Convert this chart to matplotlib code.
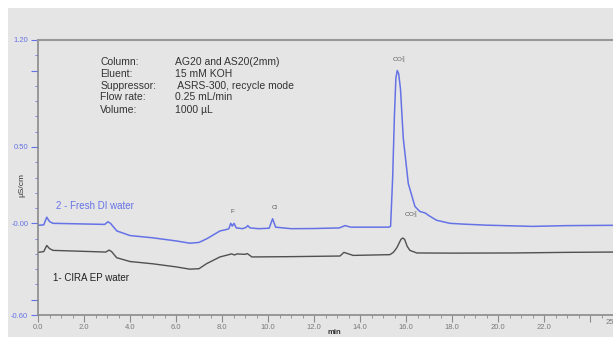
import matplotlib
matplotlib.use("Agg")
import matplotlib.pyplot as plt
from matplotlib.patches import Rectangle
from matplotlib.ticker import MultipleLocator, FixedLocator

plt.rcParams['font.family'] = ['Liberation Sans', 'DejaVu Sans']

# trace 2 - fresh DI water (min, uS/cm)
t_di = [0.0, 0.25, 0.38, 0.5, 0.65, 2.9, 3.04, 3.15, 3.43, 4.0, 5.0, 6.0, 6.6, 7.0,
        7.35, 7.91, 8.2, 8.3, 8.38, 8.45, 8.52, 8.62, 8.9, 9.05, 9.12, 9.22, 9.6, 10.05,
        10.2, 10.33, 11.0, 12.0, 13.1, 13.35, 13.6, 14.5, 15.25, 15.33, 15.42, 15.5,
        15.56, 15.62, 15.68, 15.76, 15.88, 16.1, 16.39, 16.6, 16.83, 17.0, 17.33, 17.91,
        18.48, 19.5, 21.5, 23.0, 25.0]
v_di = [-0.013, -0.01, 0.04, 0.012, 0.0, -0.007, 0.01, 0.0, -0.05, -0.08, -0.095, -0.115, -0.13, -0.125,
        -0.1, -0.05, -0.04, -0.035, 0.0, -0.018, 0.0, -0.03, -0.035, -0.026, -0.015, -0.03, -0.035, -0.032,
        0.03, -0.025, -0.035, -0.034, -0.03, -0.015, -0.025, -0.025, -0.025, -0.02, 0.3, 0.72,
        0.95, 1.0, 0.98, 0.88, 0.56, 0.26, 0.11, 0.078, 0.068, 0.05, 0.02, 0.0,
        -0.005, -0.012, -0.02, -0.015, -0.013]

# trace 1 - CIRA EP water
t_ep = [0.0, 0.25, 0.38, 0.5, 0.65, 2.95, 3.09, 3.2, 3.42, 4.0, 5.0, 6.0, 6.6, 7.0,
        7.33, 7.91, 8.3, 8.4, 8.55, 8.65, 9.0, 9.1, 9.3, 11.0, 13.13, 13.3, 13.5, 13.7,
        15.3, 15.45, 15.6, 15.78, 15.86, 15.94, 16.05, 16.17, 16.47, 18.0, 20.65, 23.0, 25.0]
v_ep = [-0.19, -0.185, -0.145, -0.165, -0.177, -0.188, -0.175, -0.185, -0.225, -0.25, -0.265, -0.285, -0.30, -0.297,
        -0.264, -0.22, -0.205, -0.2, -0.207, -0.2, -0.203, -0.198, -0.22, -0.218, -0.214, -0.19, -0.2, -0.21,
        -0.205, -0.19, -0.16, -0.105, -0.096, -0.105, -0.15, -0.177, -0.194, -0.195, -0.194, -0.19, -0.188]

info_keys = ['Column:', 'Eluent:', 'Suppressor:', 'Flow rate:', 'Volume:']
info_vals = ['AG20 and AS20(2mm)', '15 mM KOH', ' ASRS-300, recycle mode', '0.25 mL/min', '1000 µL']

x_major = [0, 2, 4, 6, 8, 10, 12, 14, 16, 18, 20, 22, 24]
x_labels = ['0.0', '2.0', '4.0', '6.0', '8.0', '10.0', '12.0', '14.0', '16.0', '18.0', '20.0', '22.0', '']
y_major = [1.2, 1.0, 0.5, 0.0, -0.5, -0.6]
y_labels = ['1.20', '', '0.50', '-0.00', '', '-0.60']

blue = '#6572e6'
bg = '#e5e5e5'

fig = plt.figure(figsize=(6.13, 3.37), dpi=100)
fig.patch.set_facecolor('white')
fig.add_artist(Rectangle((8/613, 0), 1, 1 - 8/337, transform=fig.transFigure,
                         facecolor=bg, edgecolor='none', zorder=-10))

ax = fig.add_axes([38/613, 22/337, 575/613, 275/337])
ax.set_facecolor(bg)
ax.plot(t_di, v_di, color=blue, lw=1.1)
ax.plot(t_ep, v_ep, color='#505050', lw=1.0)

ax.set_xlim(0, 25)
ax.set_ylim(-0.6, 1.2)

for s in ['left', 'bottom']:
    ax.spines[s].set_color('#8a8a8a')
    ax.spines[s].set_linewidth(1.2)
ax.spines['top'].set_color('#999999')
ax.spines['top'].set_linewidth(1.5)
ax.spines['right'].set_visible(False)

ax.xaxis.set_major_locator(FixedLocator(x_major))
ax.set_xticklabels(x_labels)
ax.xaxis.set_minor_locator(MultipleLocator(0.5))
ax.yaxis.set_major_locator(FixedLocator(y_major))
ax.set_yticklabels(y_labels)
ax.yaxis.set_minor_locator(MultipleLocator(0.1))
ax.tick_params(axis='x', which='major', length=5, width=0.8, color='#8a8a8a',
               labelsize=5.5, labelcolor='#7a7a7a', pad=1.5)
ax.tick_params(axis='x', which='minor', length=2, width=0.6, color='#8a8a8a')
ax.tick_params(axis='y', which='major', length=5, width=0.8, color=blue,
               labelsize=5.5, labelcolor=blue, pad=2)
ax.tick_params(axis='y', which='minor', length=2, width=0.6, color=blue)
# last label sits on the right edge, partly cut off as in the original
ax.text(25, -0.627, '25.0', fontsize=5.5, color='#7a7a7a',
        ha='center', va='top', clip_on=False)

ys = [1.054, 0.975, 0.897, 0.825, 0.745]
for k, v, y in zip(info_keys, info_vals, ys):
    ax.text(2.7, y, k, fontsize=7.5, color='#333333', va='center')
    ax.text(5.96, y, v, fontsize=7.5, color='#333333', va='center')

narrow = ['Liberation Sans Narrow', 'Liberation Sans', 'DejaVu Sans']
ax.text(0.78, 0.113, '2 - Fresh DI water', fontsize=7, color=blue, va='center', family=narrow)
ax.text(0.65, -0.355, '1- CIRA EP water', fontsize=7, color='#222222', va='center', family=narrow)

ax.text(8.43, 0.08, 'F', fontsize=4.5, color='#555555', ha='center', va='center')
ax.text(10.3, 0.105, 'Cl', fontsize=4.5, color='#555555', ha='center', va='center')
ax.text(15.7, 1.07, 'CO$_3^{2}$', fontsize=4.5, color='#555555', ha='center', va='center')
ax.text(16.2, 0.06, 'CO$_3^{2}$', fontsize=4.5, color='#555555', ha='center', va='center')

fig.text(22/613, 1 - 185/337, 'µS/cm', rotation=90, fontsize=6, color='#333333',
         ha='center', va='center')
fig.text(334/613, 1 - 332/337, 'min', fontsize=5.5, weight='bold', color='#333333',
         ha='center', va='center')

fig.savefig('out.png', dpi=100)
